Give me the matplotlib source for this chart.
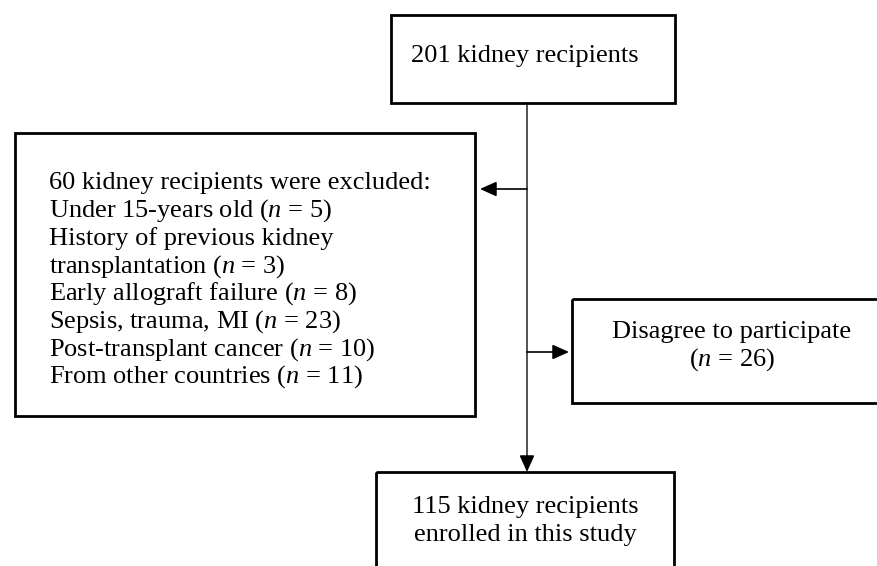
import matplotlib
matplotlib.use("Agg")
import matplotlib.pyplot as plt
from matplotlib.patches import Rectangle

plt.rcParams['font.family'] = ['Liberation Serif', 'DejaVu Serif']
plt.rcParams['mathtext.fontset'] = 'custom'
plt.rcParams['mathtext.rm'] = 'Liberation Serif'
plt.rcParams['mathtext.it'] = 'Liberation Serif:italic'

# flowchart text
top_text = ["201 kidney recipients"]
excluded_text = [
    "60 kidney recipients were excluded:",
    "Under 15-years old ($n$ = 5)",
    "History of previous kidney",
    "transplantation ($n$ = 3)",
    "Early allograft failure ($n$ = 8)",
    "Sepsis, trauma, MI ($n$ = 23)",
    "Post-transplant cancer ($n$ = 10)",
    "From other countries ($n$ = 11)",
]
disagree_text = ["Disagree to participate", "($n$ = 26)"]
enrolled_text = ["115 kidney recipients", "enrolled in this study"]

# box layout in pixels: (left, top, right, bottom)
boxes = {
    'top': (391, 15, 675, 103),
    'excluded': (15, 133, 475, 416),
    'disagree': (572, 299, 884, 403),
    'enrolled': (376, 472, 674, 590),
}
spine_x = 527
FS = 19

fig = plt.figure(figsize=(8.78, 5.66), dpi=100)
ax = fig.add_axes([0, 0, 1, 1])
ax.set_xlim(0, 878)
ax.set_ylim(566, 0)
ax.axis('off')

for name, (l, t, r, b) in boxes.items():
    ax.add_patch(Rectangle((l, t), r - l, b - t, fill=False,
                           edgecolor='black', lw=2.0, zorder=3))

# main vertical line
ax.plot([spine_x, spine_x], [boxes['top'][3], boxes['enrolled'][1] - 12],
        color='#333333', lw=1.2)

arrow = dict(arrowstyle='-|>,head_length=1.0,head_width=0.45', color='black', lw=1.2,
             shrinkA=0, shrinkB=0)
ax.annotate('', xy=(boxes['excluded'][2] + 5, 189), xytext=(spine_x, 189),
            arrowprops=arrow)
ax.annotate('', xy=(boxes['disagree'][0] - 3, 352), xytext=(spine_x, 352),
            arrowprops=arrow)
ax.annotate('', xy=(spine_x, boxes['enrolled'][1]), xytext=(spine_x, boxes['enrolled'][1] - 16),
            arrowprops=arrow)

ax.text(525, 56, top_text[0], fontsize=FS, ha='center', va='center')

for i, line in enumerate(excluded_text):
    ax.text(49, 183 + i * 27.7, line, fontsize=FS, ha='left', va='center')

for i, line in enumerate(disagree_text):
    ax.text(732, 332 + i * 28, line, fontsize=FS, ha='center', va='center')

for i, line in enumerate(enrolled_text):
    ax.text(525, 507 + i * 28, line, fontsize=FS, ha='center', va='center')

fig.savefig('out.png', dpi=100, facecolor='white')
